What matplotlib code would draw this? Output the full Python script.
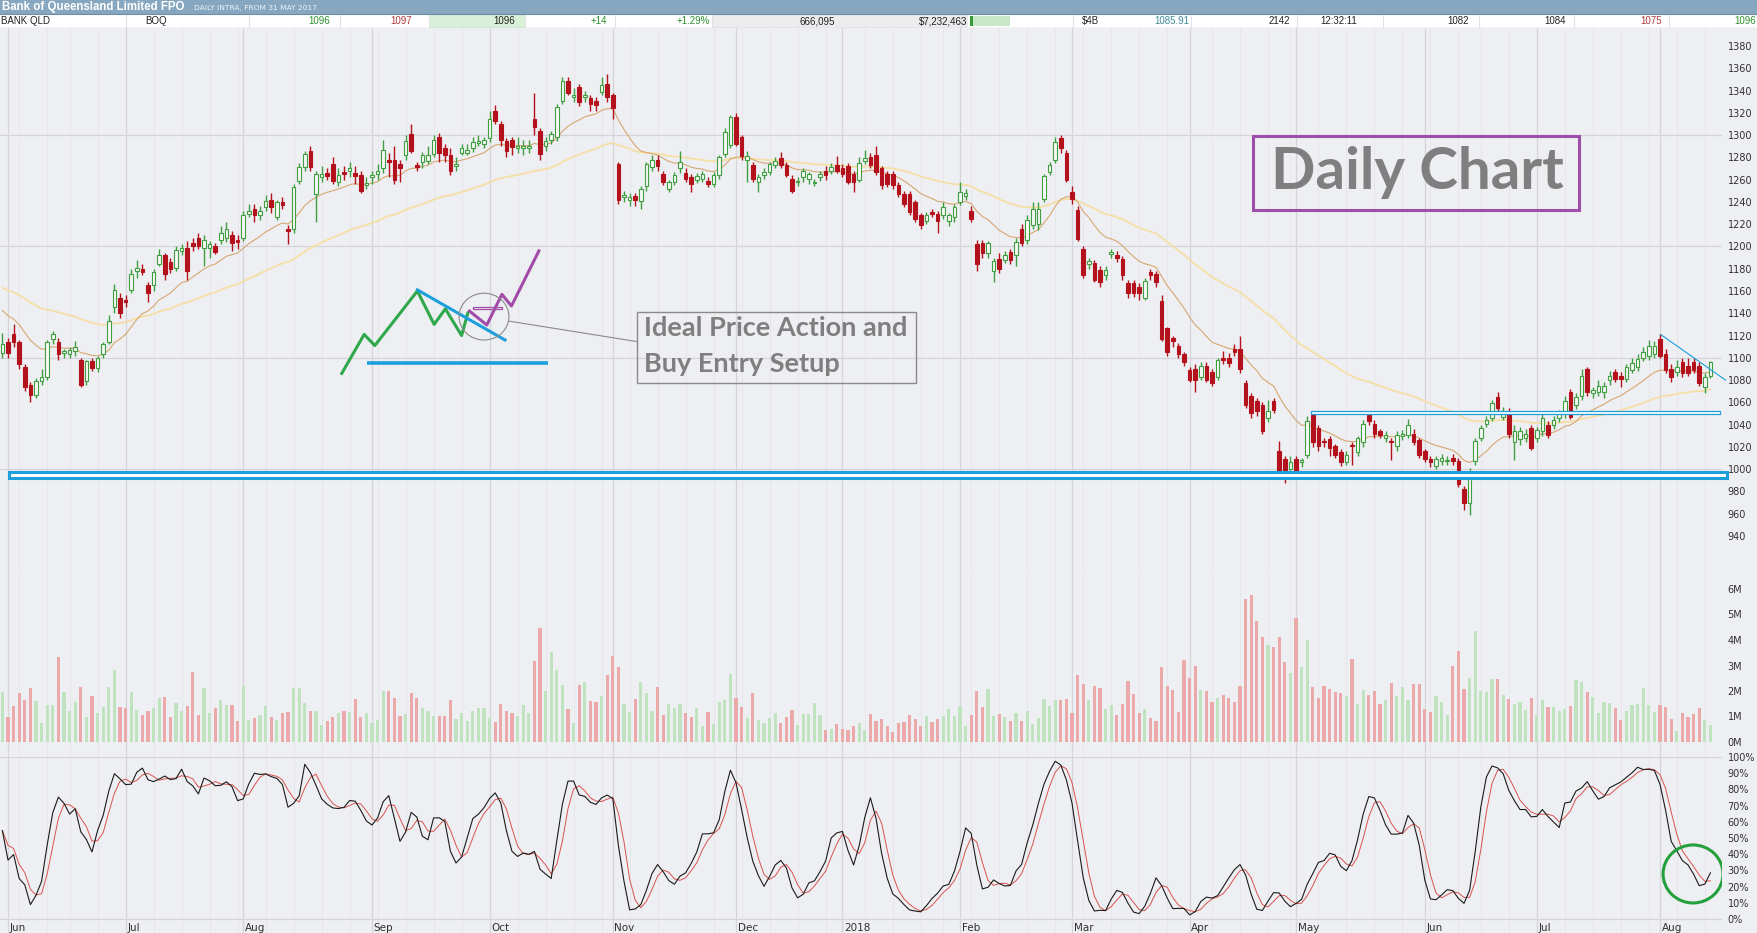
import numpy as np
import pandas as pd
import matplotlib
matplotlib.use('Agg')
import matplotlib.pyplot as plt
from matplotlib.patches import Rectangle, Ellipse

W, H = 1758, 933

# trading days: 31 May 2017 .. 14 Aug 2018 (ASX holidays removed)
holidays = ['2017-06-12', '2017-12-25', '2017-12-26', '2018-01-01', '2018-01-26',
            '2018-03-30', '2018-04-02', '2018-04-25', '2018-06-11']
month_labels = ['Jun', 'Jul', 'Aug', 'Sep', 'Oct', 'Nov', 'Dec', '2018',
                'Feb', 'Mar', 'Apr', 'May', 'Jun', 'Jul', 'Aug']

opens = [
    1104, 1114, 1121, 1114, 1092, 1076, 1067, 1079, 1083, 1117, 1114, 1104, 1103, 1106, 1098, 1079, 1097, 1091, 1103, 1114,
    1146, 1154, 1152, 1161, 1178, 1180, 1165, 1165, 1184, 1192, 1186, 1181, 1196, 1199, 1203, 1208, 1199, 1199, 1200, 1206,
    1208, 1210, 1206, 1208, 1229, 1234, 1228, 1235, 1242, 1226, 1240, 1216, 1216, 1259, 1271, 1286, 1247, 1262, 1266, 1274,
    1258, 1267, 1268, 1266, 1264, 1255, 1262, 1265, 1270, 1278, 1278, 1274, 1282, 1301, 1273, 1276, 1277, 1283, 1298, 1288,
    1282, 1272, 1284, 1284, 1288, 1293, 1292, 1297, 1322, 1310, 1295, 1296, 1288, 1288, 1288, 1314, 1304, 1290, 1296, 1298,
    1331, 1349, 1334, 1343, 1334, 1333, 1331, 1339, 1346, 1336, 1274, 1244, 1242, 1245, 1241, 1254, 1271, 1278, 1265, 1252,
    1258, 1270, 1266, 1262, 1260, 1261, 1259, 1256, 1264, 1283, 1291, 1316, 1298, 1278, 1273, 1258, 1264, 1267, 1273, 1279,
    1273, 1261, 1258, 1262, 1261, 1257, 1262, 1268, 1268, 1273, 1270, 1272, 1265, 1260, 1277, 1280, 1282, 1270, 1265, 1265,
    1255, 1247, 1247, 1240, 1228, 1223, 1231, 1229, 1228, 1223, 1226, 1240, 1245, 1232, 1202, 1203, 1194, 1178, 1189, 1188,
    1195, 1192, 1216, 1206, 1219, 1220, 1243, 1267, 1278, 1297, 1284, 1249, 1233, 1198, 1184, 1185, 1179, 1174, 1193, 1192,
    1189, 1167, 1167, 1164, 1154, 1177, 1175, 1151, 1127, 1118, 1111, 1103, 1089, 1090, 1083, 1093, 1087, 1083, 1100, 1100,
    1108, 1108, 1077, 1066, 1061, 1058, 1046, 1061, 1016, 1009, 1000, 1009, 1006, 1013, 1049, 1037, 1025, 1027, 1021, 1015,
    1006, 1022, 1015, 1024, 1049, 1041, 1034, 1028, 1025, 1021, 1030, 1031, 1032, 1026, 1016, 1009, 1003, 1007, 1007, 1010,
    1007, 982, 970, 1007, 1028, 1041, 1046, 1065, 1047, 1052, 1024, 1027, 1028, 1037, 1028, 1034, 1040, 1040, 1046, 1050,
    1069, 1058, 1066, 1090, 1068, 1069, 1069, 1080, 1087, 1084, 1081, 1089, 1092, 1100, 1102, 1103, 1117, 1103, 1090, 1087,
    1096, 1093, 1096, 1093, 1074, 1084]
highs = [
    1122, 1118, 1130, 1116, 1094, 1078, 1082, 1090, 1116, 1124, 1118, 1108, 1110, 1115, 1100, 1098, 1100, 1102, 1114, 1138,
    1166, 1158, 1156, 1180, 1188, 1184, 1168, 1180, 1198, 1194, 1190, 1200, 1202, 1205, 1208, 1212, 1210, 1205, 1203, 1218,
    1222, 1214, 1210, 1232, 1238, 1238, 1236, 1246, 1248, 1242, 1244, 1219, 1256, 1275, 1286, 1290, 1268, 1272, 1270, 1280,
    1270, 1272, 1276, 1272, 1268, 1262, 1268, 1274, 1296, 1284, 1290, 1278, 1300, 1310, 1276, 1285, 1290, 1300, 1302, 1292,
    1288, 1280, 1292, 1292, 1298, 1300, 1298, 1322, 1327, 1313, 1297, 1298, 1298, 1296, 1296, 1338, 1306, 1298, 1304, 1328,
    1352, 1352, 1342, 1346, 1340, 1336, 1334, 1352, 1355, 1338, 1276, 1250, 1248, 1248, 1254, 1276, 1282, 1282, 1268, 1260,
    1267, 1286, 1270, 1265, 1266, 1268, 1262, 1267, 1282, 1306, 1318, 1320, 1300, 1286, 1276, 1265, 1270, 1276, 1280, 1285,
    1276, 1264, 1262, 1270, 1267, 1261, 1268, 1272, 1275, 1281, 1274, 1275, 1268, 1280, 1287, 1284, 1290, 1272, 1268, 1268,
    1258, 1250, 1250, 1242, 1230, 1231, 1234, 1232, 1240, 1230, 1238, 1258, 1252, 1236, 1206, 1206, 1205, 1190, 1194, 1196,
    1198, 1208, 1220, 1228, 1240, 1240, 1265, 1276, 1298, 1300, 1287, 1254, 1236, 1200, 1190, 1188, 1182, 1182, 1198, 1196,
    1191, 1170, 1170, 1167, 1172, 1180, 1178, 1156, 1128, 1120, 1113, 1105, 1092, 1094, 1096, 1096, 1090, 1100, 1106, 1104,
    1112, 1120, 1080, 1068, 1064, 1060, 1062, 1064, 1025, 1012, 1012, 1012, 1010, 1048, 1052, 1040, 1028, 1030, 1023, 1018,
    1016, 1024, 1030, 1044, 1052, 1044, 1036, 1034, 1028, 1034, 1035, 1045, 1036, 1028, 1018, 1012, 1012, 1014, 1012, 1014,
    1010, 985, 1001, 1028, 1040, 1048, 1062, 1069, 1056, 1055, 1040, 1038, 1036, 1040, 1038, 1050, 1043, 1048, 1053, 1066,
    1072, 1068, 1090, 1092, 1074, 1080, 1078, 1088, 1090, 1087, 1094, 1100, 1103, 1110, 1116, 1115, 1121, 1108, 1094, 1098,
    1100, 1100, 1100, 1096, 1086, 1097]
lows = [
    1100, 1100, 1110, 1090, 1070, 1060, 1064, 1076, 1080, 1112, 1098, 1100, 1100, 1102, 1074, 1076, 1088, 1087, 1100, 1112,
    1140, 1136, 1146, 1158, 1172, 1174, 1150, 1160, 1182, 1170, 1176, 1178, 1192, 1170, 1196, 1198, 1182, 1190, 1193, 1202,
    1204, 1196, 1198, 1205, 1226, 1222, 1224, 1232, 1230, 1224, 1234, 1202, 1212, 1256, 1268, 1268, 1222, 1258, 1260, 1256,
    1254, 1260, 1262, 1256, 1248, 1252, 1256, 1260, 1266, 1262, 1256, 1258, 1278, 1284, 1268, 1270, 1274, 1280, 1276, 1276,
    1264, 1268, 1282, 1282, 1285, 1290, 1288, 1294, 1310, 1290, 1280, 1282, 1284, 1282, 1284, 1300, 1278, 1286, 1292, 1295,
    1328, 1336, 1330, 1326, 1330, 1322, 1322, 1336, 1330, 1314, 1238, 1240, 1236, 1236, 1234, 1250, 1268, 1268, 1255, 1249,
    1255, 1266, 1258, 1249, 1257, 1258, 1253, 1253, 1261, 1280, 1288, 1290, 1278, 1258, 1258, 1249, 1261, 1264, 1270, 1270,
    1262, 1248, 1254, 1258, 1256, 1254, 1259, 1260, 1265, 1266, 1262, 1256, 1249, 1258, 1274, 1270, 1264, 1252, 1253, 1252,
    1244, 1235, 1228, 1222, 1216, 1220, 1226, 1212, 1225, 1218, 1222, 1237, 1242, 1222, 1178, 1190, 1190, 1168, 1176, 1185,
    1184, 1182, 1200, 1202, 1216, 1215, 1240, 1264, 1275, 1284, 1258, 1238, 1205, 1172, 1180, 1168, 1164, 1170, 1190, 1186,
    1170, 1154, 1155, 1152, 1152, 1170, 1164, 1115, 1102, 1110, 1100, 1093, 1078, 1069, 1080, 1078, 1075, 1080, 1094, 1092,
    1102, 1086, 1055, 1046, 1048, 1032, 1042, 1050, 996, 988, 997, 996, 1002, 1010, 1020, 1016, 1020, 1012, 1010, 1003,
    1004, 1004, 1012, 1020, 1040, 1028, 1028, 1024, 1008, 1016, 1026, 1028, 1022, 1010, 1006, 1002, 1000, 1004, 1004, 1004,
    984, 963, 959, 1004, 1025, 1038, 1043, 1050, 1044, 1028, 1008, 1022, 1024, 1017, 1024, 1030, 1028, 1036, 1042, 1046,
    1045, 1054, 1062, 1066, 1064, 1066, 1064, 1076, 1078, 1074, 1078, 1086, 1088, 1097, 1098, 1100, 1100, 1086, 1078, 1084,
    1083, 1084, 1086, 1075, 1068, 1082]
closes = [
    1112, 1104, 1114, 1094, 1074, 1067, 1079, 1083, 1114, 1121, 1103, 1106, 1107, 1110, 1076, 1097, 1091, 1100, 1112, 1133,
    1161, 1140, 1150, 1175, 1181, 1177, 1158, 1177, 1192, 1175, 1180, 1197, 1199, 1178, 1200, 1200, 1206, 1202, 1195, 1212,
    1216, 1203, 1204, 1228, 1232, 1228, 1232, 1241, 1235, 1240, 1237, 1214, 1253, 1271, 1283, 1271, 1265, 1265, 1263, 1259,
    1264, 1265, 1270, 1263, 1250, 1257, 1264, 1268, 1287, 1276, 1260, 1270, 1295, 1286, 1271, 1282, 1282, 1296, 1284, 1282,
    1268, 1274, 1288, 1287, 1294, 1295, 1296, 1314, 1313, 1296, 1286, 1289, 1290, 1290, 1290, 1307, 1283, 1295, 1301, 1325,
    1349, 1338, 1336, 1330, 1336, 1328, 1327, 1345, 1334, 1324, 1242, 1246, 1244, 1242, 1252, 1274, 1278, 1272, 1258, 1258,
    1264, 1276, 1261, 1256, 1263, 1265, 1256, 1264, 1280, 1303, 1316, 1292, 1281, 1281, 1261, 1262, 1267, 1274, 1277, 1273,
    1264, 1250, 1259, 1268, 1265, 1258, 1265, 1264, 1271, 1268, 1265, 1258, 1258, 1275, 1279, 1273, 1267, 1255, 1256, 1255,
    1247, 1238, 1231, 1225, 1219, 1228, 1229, 1223, 1235, 1228, 1235, 1249, 1248, 1225, 1184, 1194, 1203, 1187, 1180, 1192,
    1188, 1204, 1203, 1224, 1234, 1234, 1263, 1273, 1294, 1288, 1260, 1243, 1207, 1174, 1187, 1170, 1168, 1179, 1195, 1190,
    1174, 1158, 1158, 1158, 1169, 1174, 1168, 1117, 1105, 1115, 1103, 1096, 1080, 1080, 1093, 1080, 1077, 1098, 1098, 1095,
    1105, 1090, 1058, 1050, 1052, 1034, 1052, 1053, 998, 998, 1006, 998, 1008, 1043, 1024, 1021, 1024, 1019, 1013, 1006,
    1013, 1021, 1028, 1041, 1043, 1032, 1031, 1031, 1024, 1031, 1032, 1040, 1024, 1013, 1009, 1006, 1009, 1010, 1008, 1007,
    987, 970, 993, 1025, 1037, 1044, 1059, 1055, 1052, 1032, 1034, 1034, 1032, 1019, 1035, 1046, 1031, 1044, 1050, 1061,
    1047, 1065, 1084, 1069, 1071, 1075, 1075, 1084, 1081, 1081, 1092, 1095, 1099, 1105, 1111, 1111, 1102, 1089, 1083, 1092,
    1086, 1086, 1089, 1077, 1083, 1096]
volume_m = [
    1.97, 0.99, 1.41, 1.93, 1.65, 2.10, 1.62, 0.73, 1.45, 1.45, 3.32, 1.97, 1.23, 1.58, 2.17, 0.99, 1.80, 1.12, 1.39, 2.17,
    2.82, 1.39, 1.32, 1.97, 1.25, 1.06, 1.23, 1.32, 1.71, 1.75, 0.99, 1.54, 1.23, 1.41, 2.76, 1.06, 2.10, 1.15, 1.35, 1.65,
    1.45, 1.45, 0.84, 2.20, 0.86, 0.93, 1.06, 1.41, 0.97, 0.86, 1.15, 1.18, 2.10, 2.10, 1.52, 1.22, 1.22, 0.67, 0.82, 0.99,
    1.12, 1.22, 1.19, 1.69, 0.99, 1.12, 0.73, 0.86, 2.00, 2.00, 1.71, 1.02, 1.08, 1.91, 1.71, 1.32, 1.22, 1.02, 1.02, 1.02,
    1.65, 0.89, 1.12, 0.82, 1.22, 1.32, 1.35, 0.93, 0.80, 1.48, 1.22, 1.12, 1.02, 1.45, 1.12, 3.18, 4.46, 2.00, 3.54, 2.82,
    2.24, 1.29, 0.73, 2.24, 2.34, 1.61, 1.56, 1.80, 2.63, 3.37, 2.93, 1.48, 1.16, 1.69, 2.34, 1.91, 1.22, 2.14, 1.06, 1.48,
    1.35, 1.48, 1.12, 0.99, 1.35, 0.63, 1.18, 0.71, 1.56, 1.65, 2.67, 1.74, 1.39, 0.94, 1.91, 0.86, 0.73, 0.93, 1.12, 0.76,
    0.99, 1.25, 0.67, 1.10, 1.10, 1.54, 1.06, 0.47, 0.50, 0.71, 0.51, 0.47, 0.63, 0.73, 0.47, 1.08, 0.82, 0.89, 0.64, 0.38,
    0.73, 0.80, 1.06, 0.92, 0.64, 1.02, 0.80, 0.90, 1.03, 1.29, 1.02, 1.42, 0.64, 1.06, 2.00, 1.39, 2.08, 1.03, 1.10, 0.99,
    0.84, 1.12, 0.84, 1.22, 0.71, 0.93, 1.69, 1.42, 1.65, 1.65, 1.70, 1.15, 2.63, 2.27, 1.65, 2.20, 2.13, 1.29, 1.45, 1.06,
    1.49, 2.39, 1.88, 1.12, 1.29, 0.95, 0.82, 2.93, 2.20, 2.04, 1.16, 3.22, 2.52, 2.99, 2.04, 2.00, 1.58, 1.71, 1.84, 1.71,
    1.56, 2.20, 5.61, 5.76, 4.75, 4.10, 3.80, 3.74, 4.10, 3.15, 2.69, 4.85, 2.93, 4.00, 2.14, 1.74, 2.20, 2.07, 1.95, 1.91,
    1.80, 3.24, 1.49, 2.04, 1.84, 2.00, 1.49, 1.65, 2.30, 1.80, 2.14, 1.65, 2.26, 2.26, 1.29, 1.16, 1.80, 1.56, 1.06, 2.98,
    3.58, 2.08, 2.50, 4.35, 2.01, 1.95, 2.47, 2.47, 1.84, 1.69, 1.49, 1.56, 1.25, 1.74, 1.06, 1.65, 1.39, 1.36, 1.23, 1.28,
    1.41, 2.43, 2.37, 1.96, 1.75, 1.15, 1.56, 1.52, 1.35, 0.86, 1.23, 1.45, 1.49, 2.10, 1.45, 1.19, 1.45, 1.39, 0.89, 0.43,
    1.12, 0.99, 1.08, 1.35, 0.86, 0.67]

# moving average values read at the left edge of the chart (seeds) and periods
ma_periods = [15, 50]
ma_seeds = [1147, 1165]

dates = pd.bdate_range('2017-05-31', '2018-08-14')
dates = dates[~dates.isin(pd.to_datetime(holidays))]
n = len(dates)
x = np.arange(n)
o, hi, lo, c = (np.array(v, dtype=float) for v in (opens, highs, lows, closes))
vol = np.array(volume_m)

month_starts = [i for i in range(1, n) if dates[i].month != dates[i - 1].month]
week_starts = [i for i in range(1, n)
               if dates[i].isocalendar()[1] != dates[i - 1].isocalendar()[1] and i not in month_starts]

# indicators
def ema(vals, period, seed):
    a = 2.0 / (period + 1)
    out, e = [], seed
    for v in vals:
        e = e + a * (v - e)
        out.append(e)
    return np.array(out)

ma_fast = ema(c, ma_periods[0], ma_seeds[0])
ma_slow = ema(c, ma_periods[1], ma_seeds[1])

cs, hs, ls = pd.Series(c), pd.Series(hi), pd.Series(lo)
hh = hs.rolling(14, min_periods=1).max()
ll = ls.rolling(14, min_periods=1).min()
raw_k = 100 * (cs - ll) / (hh - ll)
stoch_k = raw_k.rolling(3, min_periods=1).mean()
stoch_d = stoch_k.rolling(3, min_periods=1).mean()

# colours
BG = '#eeeff2'
GRID = '#d4d4da'
GRID2 = '#e4e4e9'
GREEN = '#3f9e3f'
RED = '#b3121c'
BLUE = '#1d9fdc'
GRAYTXT = '#7f7f7f'
NARROW = ['Liberation Sans', 'DejaVu Sans']

fig = plt.figure(figsize=(W / 100, H / 100), dpi=100, facecolor=BG)


def px_axes(x0, y0, x1, y1):
    return fig.add_axes([x0 / W, 1 - y1 / H, (x1 - x0) / W, (y1 - y0) / H])


AX_R = 1722
# x in bar index: bar i centred at pixel 2.4 + 5.6 * i
xlim = (-2.4 / 5.6, (AX_R - 2.4) / 5.6)

ax_p = px_axes(0, 28, AX_R, 570)
ax_v = px_axes(0, 570, AX_R, 757)
ax_s = px_axes(0, 757, AX_R, 933)

for ax in (ax_p, ax_v, ax_s):
    ax.set_facecolor(BG)
    ax.set_xlim(*xlim)
    for sp in ax.spines.values():
        sp.set_visible(False)
    ax.set_xticks([])
    ax.yaxis.tick_right()
    ax.tick_params(axis='y', length=0, pad=4, labelsize=7, labelcolor='#303030')
    for i in week_starts:
        ax.axvline(i, color=GRID2, lw=0.6, zorder=0)
    for i in month_starts:
        ax.axvline(i, color=GRID, lw=0.9, zorder=0)

# price panel
ax_p.set_ylim(1380 - 524 / 1.1136, 1380 + 18 / 1.1136)
ax_p.set_yticks(range(940, 1381, 20))
for p in (1000, 1100, 1200, 1300):
    ax_p.axhline(p, color=GRID, lw=0.9, zorder=0)

ax_p.plot(x, ma_slow, color='#f6dfa6', lw=1.3, zorder=2)
ax_p.plot(x, ma_fast, color='#d7a772', lw=0.8, zorder=2)

up = c >= o
ax_p.vlines(x, lo, hi, colors=np.where(up, GREEN, RED), lw=1.0, zorder=3)
ax_p.bar(x, np.maximum(np.abs(c - o), 0.9), bottom=np.minimum(o, c), width=0.62,
         color=np.where(up, '#f5f8f5', RED), edgecolor=np.where(up, GREEN, RED),
         linewidth=0.8, zorder=4)

# support zones and trend line
ax_p.add_patch(Rectangle((1.18, 992), 306.8, 5.5, facecolor='white', edgecolor=BLUE,
                         lw=2.2, zorder=5, clip_on=False))
ax_p.add_patch(Rectangle((233.6, 1049.3), 73.2, 3.3, facecolor='white', edgecolor=BLUE,
                         lw=0.9, zorder=5, clip_on=False))
ax_p.plot([296.1, 307.7], [1121, 1080], color=BLUE, lw=0.8, zorder=5, clip_on=False)

# ideal price action sketch
ax_p.plot([65.1, 97.5], [1095, 1095], color=BLUE, lw=2.6, solid_capstyle='butt', zorder=6)
ax_p.plot([60.6, 64.6, 66.5, 74.1, 77.1, 79.1, 82.0, 83.1],
          [1086, 1121, 1111, 1160, 1130, 1144, 1120, 1140], color='#2ea84a', lw=2.2, zorder=6)
ax_p.plot([74.1, 89.75], [1161, 1116], color=BLUE, lw=2.2, zorder=6)
ax_p.plot([83.4, 86.5, 89.2, 90.9, 95.8], [1142, 1129.5, 1157, 1146.5, 1196],
          color='#a24ca9', lw=2.2, zorder=6)
ax_p.add_patch(Rectangle((84.1, 1144.1), 5.1, 1.8, facecolor='none', edgecolor='#a24ca9',
                         lw=0.9, zorder=6))
ax_p.add_patch(Ellipse((86.0, 1137), 8.9, 42, facecolor='none', edgecolor='#8a8a8a',
                       lw=0.8, zorder=6))
ax_p.plot([90.4, 113.4], [1133, 1114.5], color='#8a8a8a', lw=0.8, zorder=6)
ax_p.add_patch(Rectangle((113.4, 1077.6), 49.7, 63.8, facecolor='none', edgecolor='#8a8a8a',
                         lw=1.0, zorder=6))
ax_p.text(114.6, 1127, 'Ideal Price Action and', fontsize=19.5, fontweight='bold',
          family=['Lato', 'DejaVu Sans'], color=GRAYTXT, va='center', ha='left', zorder=7)
ax_p.text(114.6, 1094.5, 'Buy Entry Setup', fontsize=19.5, fontweight='bold',
          family=['Lato', 'DejaVu Sans'], color=GRAYTXT, va='center', ha='left', zorder=7)

# "Daily Chart" label
ax_p.add_patch(Rectangle((223.4, 1232.5), 58.2, 67.0, facecolor='none', edgecolor='#9d4ea8',
                         lw=2.2, zorder=6))
ax_p.text(252.6, 1266, 'Daily Chart', fontsize=42, fontweight='bold',
          family=['Lato', 'DejaVu Sans'], color=GRAYTXT, va='center', ha='center', zorder=7)

# volume panel
ax_v.set_ylim(-15 / 25.5, 172 / 25.5)
ax_v.set_yticks(range(0, 7))
ax_v.set_yticklabels([f'{m}M' for m in range(0, 7)])
ax_v.bar(x, vol, width=0.55, color=np.where(up, '#bfe2bf', '#eba9a9'), zorder=2)

# stochastic panel
ax_s.set_ylim(-14 / 1.62, 100)
ax_s.set_yticks(range(0, 101, 10))
ax_s.set_yticklabels([f'{v}%' for v in range(0, 101, 10)])
ax_s.axhline(100, color=GRID, lw=0.9, zorder=0)
ax_s.axhline(0, color=GRID, lw=0.9, zorder=0)
ax_s.plot(x, stoch_d, color='#d8524f', lw=0.7, zorder=3)
ax_s.plot(x, stoch_k, color='#1a1a1a', lw=0.8, zorder=3)
ax_s.add_patch(Ellipse((301.9, 27.8), 10.7, 35.8, facecolor='none', edgecolor='#23a03c',
                       lw=2.2, zorder=5))
for i, lab in zip(month_starts, month_labels):
    ax_s.text(i + 0.3, -5.6, lab, fontsize=7.5, color='#303030', va='center', ha='left')

# header: title bar and quote row
ax_h = px_axes(0, 0, W, 28)
ax_h.set_xlim(0, W)
ax_h.set_ylim(28, 0)
ax_h.axis('off')
ax_h.add_patch(Rectangle((0, 0), W, 14, facecolor='#86a7bf', edgecolor='none'))
ax_h.add_patch(Rectangle((0, 14), W, 14, facecolor='white', edgecolor='none'))
ax_h.add_patch(Rectangle((429, 14), 96, 14, facecolor='#d8f0d8', edgecolor='none'))
ax_h.add_patch(Rectangle((712, 14), 256, 14, facecolor='#ececec', edgecolor='none'))
ax_h.add_patch(Rectangle((970, 16), 40, 10, facecolor='#c6e8c6', edgecolor='none'))
ax_h.add_patch(Rectangle((970, 16), 3, 10, facecolor='#3a9a3a', edgecolor='none'))
ax_h.plot([0, W], [27.5, 27.5], color='#c4c4c8', lw=1)
ax_h.plot([0, W], [14, 14], color='#6d8ea6', lw=0.8)
cell_edges = [126, 249, 340, 429, 525, 615, 712, 961, 1073, 1191, 1297, 1383, 1479, 1574, 1669]
for xe in cell_edges:
    ax_h.plot([xe, xe], [14.5, 27], color='#e2e2e2', lw=0.8)

ax_h.text(2, 7.3, 'Bank of Queensland Limited FPO', fontsize=8.3, fontweight='bold',
          family=NARROW, color='white', va='center', ha='left')
ax_h.text(194, 7.8, 'DAILY INTRA, FROM 31 MAY 2017', fontsize=5.4, family='DejaVu Sans',
          color='#eef3f7', va='center', ha='left')

quote_cells = [
    (1, 'BANK QLD', '#222222', 'left'),
    (145, 'BOQ', '#222222', 'left'),
    (330, '1096', '#2f8f2f', 'right'),
    (412, '1097', '#b03a3a', 'right'),
    (515, '1096', '#222222', 'right'),
    (607, '+14', '#2f8f2f', 'right'),
    (710, '+1.29%', '#2f8f2f', 'right'),
    (835, '666,095', '#222222', 'right'),
    (967, '$7,232,463', '#222222', 'right'),
    (1099, '$4B', '#222222', 'right'),
    (1189, '1085.91', '#3f8a96', 'right'),
    (1290, '2142', '#222222', 'right'),
    (1320, '12:32:11', '#222222', 'left'),
    (1469, '1082', '#222222', 'right'),
    (1566, '1084', '#222222', 'right'),
    (1662, '1075', '#b03a3a', 'right'),
    (1756, '1096', '#2f8f2f', 'right'),
]
for xq, txt, col, ha in quote_cells:
    ax_h.text(xq, 21.2, txt, fontsize=7, family=NARROW, color=col, va='center', ha=ha)

fig.savefig('out.png', dpi=100, facecolor=BG)
